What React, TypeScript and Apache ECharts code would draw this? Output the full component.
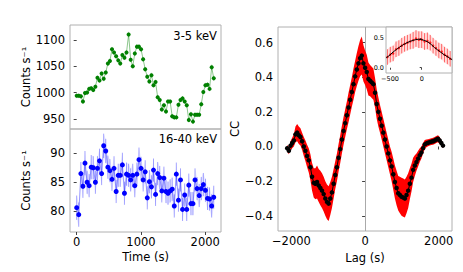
import React, { useEffect, useRef } from "react";
import * as echarts from "echarts";

const FONT = "DejaVu Sans";

// Light curves (time bins in s)
const times = [0,32,65,97,129,162,194,226,258,291,323,355,388,420,452,485,517,549,581,614,646,678,711,743,775,808,840,872,904,937,969,1001,1034,1066,1098,1131,1163,1195,1227,1260,1292,1324,1357,1389,1421,1454,1486,1518,1550,1583,1615,1647,1680,1712,1744,1777,1809,1841,1873,1906,1938,1970,2003,2035,2067,2100,2132];
const soft = [994,994,993,983,999,1000,1007,1008,1005,1011,1028,1023,1036,1026,1038,1055,1060,1082,1076,1069,1061,1055,1071,1066,1076,1110,1062,1050,1074,1087,1087,1082,1063,1044,1030,1021,1033,1014,1020,991,986,968,976,964,983,983,955,953,953,977,986,989,983,976,948,959,945,958,958,958,978,1001,1014,1015,1007,1048,1027];
const softErr = [4.5,4.5,4.5,4.5,4.5,4.5,4.5,4.5,4.5,4.5,4.5,4.5,4.5,4.5,4.5,4.5,4.5,4.5,4.5,4.5,4.5,4.5,4.5,4.5,4.5,5,4.5,4.5,4.5,4.5,4.5,4.5,4.5,4.5,4.5,4.5,4.5,4.5,4.5,4.5,4.5,4.5,4.5,4.5,4.5,4.5,4.5,4.5,4.5,4.5,4.5,4.5,4.5,4.5,4.5,4.5,4.5,4.5,4.5,4.5,4.5,4.5,4.5,4.5,4.5,5,5];
const hard = [80.6,79.4,86.5,84.3,88.3,85.0,84.4,87.6,87.5,85.0,87.4,88.7,86.5,91.3,90.4,87.6,87.0,85.5,87.4,83.4,86.2,86.2,88.0,83.1,86.4,86.2,85.4,86.2,84.4,86.4,88.9,87.4,85.4,86.8,82.3,85.1,84.2,87.1,82.9,86.5,85.8,83.5,85.7,83.4,83.1,83.5,83.8,80.9,86.4,81.9,85.4,80.3,82.8,80.3,84.5,81.3,81.3,85.4,83.9,82.7,83.9,84.6,83.6,82.2,82.1,80.9,82.4];
const hardErr = [2.1,2.1,2.0,2.0,2.1,2.0,2.0,2.1,2.0,2.0,2.1,2.1,2.0,2.1,2.1,2.0,2.0,2.0,2.1,2.0,2.0,2.0,2.1,2.0,2.0,2.0,2.0,2.0,2.0,2.0,2.1,2.0,2.0,2.0,2.0,2.0,2.0,2.0,2.0,2.0,2.0,2.0,2.0,2.0,2.0,2.0,2.0,2.0,2.0,2.0,2.0,2.0,2.0,2.0,2.0,2.0,2.0,2.0,2.0,2.0,2.0,2.0,2.0,2.0,2.0,2.0,2.0];

// Cross-correlation
const ccLags = [-2115,-2070,-2025,-1980,-1935,-1890,-1845,-1800,-1755,-1710,-1665,-1620,-1575,-1530,-1485,-1440,-1395,-1350,-1305,-1260,-1215,-1170,-1125,-1080,-1035,-990,-945,-900,-855,-810,-765,-720,-675,-630,-585,-540,-495,-450,-405,-360,-315,-270,-225,-180,-135,-90,-45,0,45,90,135,180,225,270,315,360,405,450,495,540,585,630,675,720,765,810,855,900,945,990,1035,1080,1125,1170,1215,1260,1305,1350,1395,1440,1485,1530,1575,1620,1665,1710,1755,1800,1845,1890,1935,1980,2025,2070,2115];
const ccVals = [-0.01,-0.025,0.005,0.02,0.035,0.07,0.08,0.065,0.055,0.03,0.0,-0.025,-0.055,-0.08,-0.12,-0.175,-0.21,-0.215,-0.205,-0.225,-0.24,-0.255,-0.275,-0.3,-0.32,-0.33,-0.3,-0.265,-0.215,-0.165,-0.12,-0.065,-0.015,0.04,0.09,0.135,0.18,0.225,0.27,0.315,0.36,0.405,0.445,0.48,0.51,0.525,0.48,0.455,0.43,0.39,0.38,0.37,0.36,0.31,0.245,0.2,0.16,0.12,0.08,0.04,0.0,-0.04,-0.08,-0.115,-0.16,-0.205,-0.24,-0.27,-0.28,-0.29,-0.295,-0.3,-0.28,-0.255,-0.215,-0.18,-0.135,-0.11,-0.09,-0.07,-0.05,-0.035,-0.01,0.012,0.018,0.022,0.025,0.028,0.03,0.035,0.04,0.045,0.035,0.02,0.005];
const ccErr = [0.02,0.02,0.025,0.03,0.035,0.045,0.05,0.05,0.05,0.05,0.055,0.06,0.065,0.07,0.075,0.08,0.085,0.09,0.095,0.095,0.1,0.1,0.1,0.1,0.1,0.1,0.095,0.09,0.085,0.08,0.08,0.08,0.08,0.08,0.08,0.08,0.08,0.085,0.085,0.085,0.09,0.09,0.095,0.1,0.105,0.11,0.105,0.1,0.1,0.095,0.09,0.09,0.09,0.085,0.085,0.085,0.08,0.08,0.08,0.08,0.08,0.08,0.08,0.085,0.09,0.095,0.1,0.1,0.105,0.11,0.11,0.11,0.105,0.1,0.09,0.08,0.07,0.06,0.05,0.045,0.04,0.035,0.03,0.025,0.022,0.02,0.02,0.02,0.02,0.02,0.02,0.02,0.02,0.015,0.015];

// Inset (zoom on the peak)
const insetLags = [-540,-495,-450,-405,-360,-315,-270,-225,-180,-135,-90,-45,0,45,90,135,180,225,270,315,360,405,450];
const insetVals = [0.18,0.22,0.24,0.31,0.33,0.37,0.4,0.42,0.44,0.46,0.49,0.47,0.47,0.44,0.45,0.42,0.37,0.33,0.29,0.27,0.22,0.19,0.15];
const insetErr = [0.13,0.13,0.13,0.13,0.13,0.13,0.13,0.13,0.13,0.14,0.14,0.14,0.14,0.14,0.14,0.13,0.13,0.13,0.13,0.13,0.13,0.13,0.13];
const fitLags = [-560,-500,-450,-400,-350,-300,-250,-200,-150,-100,-50,0,50,100,150,200,250,300,350,400,450,480];
const fitVals = [0.165,0.215,0.265,0.305,0.345,0.38,0.41,0.435,0.455,0.47,0.478,0.472,0.455,0.43,0.39,0.34,0.3,0.26,0.22,0.19,0.155,0.135];

const minus = (s: string) => s.replace("-", "\u2212");

function errRender(color: string, width: number) {
  return (params: any, api: any) => {
    const x = api.value(0), y = api.value(1), e = api.value(2);
    const a = api.coord([x, y - e]);
    const b = api.coord([x, y + e]);
    return { type: "line", shape: { x1: a[0], y1: a[1], x2: b[0], y2: b[1] }, style: { stroke: color, lineWidth: width } };
  };
}

function bandRender(xs: number[], ys: number[], es: number[], color: string) {
  return (params: any, api: any) => {
    const pts: number[][] = [];
    for (let i = 0; i < xs.length; i++) pts.push(api.coord([xs[i], ys[i] + es[i]]));
    for (let i = xs.length - 1; i >= 0; i--) pts.push(api.coord([xs[i], ys[i] - es[i]]));
    return { type: "polygon", shape: { points: pts }, style: { fill: color } };
  };
}

const frame = { show: true, borderColor: "#b0b0b0", borderWidth: 1, backgroundColor: "transparent" };
const tick = (vals: number[], len = 3) => ({ show: true, length: len, customValues: vals, lineStyle: { color: "#444", width: 1 } });
const FS = 11.5;
const lbl = (vals: number[], fmt: (v: number) => string, size = FS, margin = 5) => ({
  show: true, customValues: vals, formatter: fmt, fontSize: size, color: "#000", fontFamily: FONT, margin,
});
const nameStyle = { fontSize: FS, color: "#000", fontFamily: FONT };
const COUNTS = "Counts s\u207B\u00B9";

export default function App() {
  const ref = useRef<HTMLDivElement>(null);
  useEffect(() => {
    if (!ref.current) return;
    const chart = echarts.init(ref.current, null, { renderer: "svg" });
    const z = (xs: number[], ys: number[]) => xs.map((x, i) => [x, ys[i]]);
    const z3 = (xs: number[], ys: number[], es: number[]) => xs.map((x, i) => [x, ys[i], es[i]]);
    const option: any = {
      animation: false,
      textStyle: { fontFamily: FONT },
      grid: [
        { left: 70, top: 25, width: 151, height: 104, ...frame },
        { left: 70, top: 129, width: 151, height: 103, ...frame },
        { left: 278, top: 27, width: 174, height: 204, ...frame },
        { left: 386, top: 27, width: 66, height: 46, ...frame, backgroundColor: "#fff" },
      ],
      xAxis: [
        { gridIndex: 0, type: "value", min: -104, max: 2245, axisLine: { show: false }, axisTick: { show: false }, axisLabel: { show: false }, splitLine: { show: false } },
        {
          gridIndex: 1, type: "value", min: -104, max: 2245, axisLine: { show: false }, splitLine: { show: false },
          axisTick: tick([0, 1000, 2000]), axisLabel: lbl([0, 1000, 2000], (v) => String(v), FS, 4),
          name: "Time (s)", nameLocation: "middle", nameGap: 19, nameTextStyle: nameStyle,
        },
        {
          gridIndex: 2, type: "value", min: -2365, max: 2360, axisLine: { show: false }, splitLine: { show: false },
          axisTick: tick([-2000, 0, 2000]), axisLabel: lbl([-2000, 0, 2000], (v) => minus(String(v)), FS, 4),
          name: "Lag (s)", nameLocation: "middle", nameGap: 20, nameTextStyle: nameStyle,
        },
        {
          gridIndex: 3, type: "value", min: -563, max: 478, axisLine: { show: false }, splitLine: { show: false },
          axisTick: tick([-500, 0], 2), axisLabel: lbl([-500, 0], (v) => minus(String(v)), 6.5, 2),
        },
      ],
      yAxis: [
        {
          gridIndex: 0, type: "value", min: 931, max: 1128, axisLine: { show: false }, splitLine: { show: false },
          axisTick: tick([950, 1000, 1050, 1100]), axisLabel: lbl([950, 1000, 1050, 1100], (v) => String(v), FS, 5),
          name: COUNTS, nameLocation: "middle", nameGap: 38, nameTextStyle: nameStyle,
        },
        {
          gridIndex: 1, type: "value", min: 76.4, max: 94.2, axisLine: { show: false }, splitLine: { show: false },
          axisTick: tick([80, 85, 90]), axisLabel: lbl([80, 85, 90], (v) => String(v), FS, 5),
          name: COUNTS, nameLocation: "middle", nameGap: 38, nameTextStyle: nameStyle,
        },
        {
          gridIndex: 2, type: "value", min: -0.488, max: 0.69, axisLine: { show: false }, splitLine: { show: false },
          axisTick: tick([-0.4, -0.2, 0, 0.2, 0.4, 0.6]),
          axisLabel: lbl([-0.4, -0.2, 0, 0.2, 0.4, 0.6], (v) => minus(v.toFixed(1)), FS, 5),
          name: "CC", nameLocation: "middle", nameGap: 34, nameTextStyle: nameStyle,
        },
        {
          gridIndex: 3, type: "value", min: -0.088, max: 0.683, axisLine: { show: false }, splitLine: { show: false },
          axisTick: tick([0, 0.5], 2), axisLabel: lbl([0, 0.5], (v) => v.toFixed(1), 6.5, 2),
        },
      ],
      series: [
        // soft band light curve
        {
          type: "custom", xAxisIndex: 0, yAxisIndex: 0, data: z3(times, soft, softErr),
          encode: { x: 0, y: 1 }, renderItem: errRender("rgba(0,128,0,0.35)", 1), z: 2,
        },
        {
          type: "line", xAxisIndex: 0, yAxisIndex: 0, data: z(times, soft), symbol: "circle", symbolSize: 4,
          itemStyle: { color: "#008000" }, lineStyle: { color: "rgba(0,128,0,0.45)", width: 1 }, z: 3,
        },
        // hard band light curve
        {
          type: "custom", xAxisIndex: 1, yAxisIndex: 1, data: [[times[0], hard[0]]], encode: { x: 0, y: 1 },
          renderItem: bandRender(times, hard, hardErr, "rgba(0,0,255,0.07)"), z: 1,
        },
        {
          type: "custom", xAxisIndex: 1, yAxisIndex: 1, data: z3(times, hard, hardErr),
          encode: { x: 0, y: 1 }, renderItem: errRender("rgba(0,0,255,0.35)", 1), z: 2,
        },
        {
          type: "line", xAxisIndex: 1, yAxisIndex: 1, data: z(times, hard), symbol: "circle", symbolSize: 5,
          itemStyle: { color: "#0000ff" }, lineStyle: { color: "rgba(0,0,255,0.35)", width: 1 }, z: 3,
        },
        // CC band
        {
          type: "custom", xAxisIndex: 2, yAxisIndex: 2, data: [[ccLags[0], ccVals[0]]], encode: { x: 0, y: 1 },
          renderItem: bandRender(ccLags, ccVals, ccErr, "#ff0000"), z: 2,
        },
        {
          type: "line", xAxisIndex: 2, yAxisIndex: 2, data: z(ccLags, ccVals), symbol: "circle", symbolSize: 4.5,
          itemStyle: { color: "#000" }, lineStyle: { color: "#000", width: 1 }, z: 3,
          markLine: {
            silent: true, symbol: "none", label: { show: false }, z: 1,
            lineStyle: { color: "#aaaaaa", width: 1, type: "solid" }, data: [{ xAxis: 0 }],
          },
        },
        // inset
        {
          type: "custom", xAxisIndex: 3, yAxisIndex: 3, data: [[insetLags[0], insetVals[0]]], encode: { x: 0, y: 1 },
          renderItem: bandRender(insetLags, insetVals, insetErr, "rgba(255,80,80,0.18)"), z: 11,
        },
        {
          type: "custom", xAxisIndex: 3, yAxisIndex: 3, data: z3(insetLags, insetVals, insetErr),
          encode: { x: 0, y: 1 }, renderItem: errRender("rgba(255,0,0,0.55)", 1), z: 12,
        },
        {
          type: "scatter", xAxisIndex: 3, yAxisIndex: 3, data: z(insetLags, insetVals), symbolSize: 2.5,
          itemStyle: { color: "#ff0000" }, z: 12,
        },
        {
          type: "line", xAxisIndex: 3, yAxisIndex: 3, data: z(fitLags, fitVals), symbol: "none",
          lineStyle: { color: "#000", width: 1 }, z: 13,
        },
      ],
      graphic: [
        { type: "text", x: 217, y: 36, style: { text: "3-5 keV", textAlign: "right", textVerticalAlign: "middle", fontSize: FS, fontFamily: FONT, fill: "#000" } },
        { type: "text", x: 217, y: 139, style: { text: "16-40 keV", textAlign: "right", textVerticalAlign: "middle", fontSize: FS, fontFamily: FONT, fill: "#000" } },
      ],
    };
    chart.setOption(option);
    return () => chart.dispose();
  }, []);
  return <div ref={ref} style={{ position: "fixed", left: 0, top: 0, width: 463, height: 272, background: "#fff" }} />;
}
